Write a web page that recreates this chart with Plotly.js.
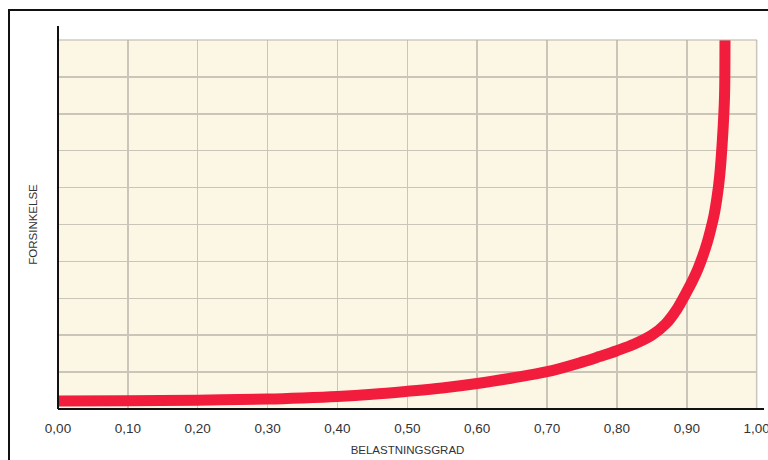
<!DOCTYPE html>
<html>
<head>
<meta charset="utf-8">
<script src="https://cdn.plot.ly/plotly-3.0.1.min.js"></script>
<style>html,body{margin:0;padding:0;background:#fff;}#chart{width:768px;height:460px;}</style>
</head>
<body>
<div id="chart"></div>
<script>
// Belastningsgrad (utilization) values
const belastning = [0.00, 0.10, 0.20, 0.30, 0.35, 0.40, 0.45, 0.50, 0.55, 0.60, 0.65, 0.70, 0.75, 0.775, 0.80, 0.825, 0.85, 0.87, 0.885, 0.90, 0.908, 0.916, 0.923, 0.929, 0.934, 0.939, 0.943, 0.947, 0.951, 0.954, 0.9547, 0.9550];
// Forsinkelse (delay) in gridline units (0..10)
const forsinkelse = [0.22, 0.225, 0.24, 0.27, 0.30, 0.34, 0.40, 0.48, 0.57, 0.69, 0.84, 1.01, 1.27, 1.42, 1.58, 1.76, 2.00, 2.31, 2.68, 3.18, 3.47, 3.80, 4.15, 4.50, 4.85, 5.25, 5.70, 6.30, 7.30, 8.46, 10.0, 11.0];
const xTicks = [0, 0.1, 0.2, 0.3, 0.4, 0.5, 0.6, 0.7, 0.8, 0.9, 1.0];
const xTickLabels = ["0,00", "0,10", "0,20", "0,30", "0,40", "0,50", "0,60", "0,70", "0,80", "0,90", "1,00"];
const yGrid = [0, 1, 2, 3, 4, 5, 6, 7, 8, 9, 10];

const trace = {
  x: belastning, y: forsinkelse, type: 'scatter', mode: 'lines',
  line: {color: '#f21c3c', width: 11, shape: 'spline', smoothing: 1},
  hoverinfo: 'skip'
};

const layout = {
  width: 768, height: 460,
  margin: {l: 58, r: 11, t: 40, b: 51},
  paper_bgcolor: '#ffffff', plot_bgcolor: '#fcf6e4',
  showlegend: false,
  font: {family: 'Liberation Sans, Arial, sans-serif', color: '#333333'},
  xaxis: {
    range: [0, 1.0005], tickvals: xTicks, ticktext: xTickLabels,
    showgrid: true, gridcolor: '#c9c5b9', gridwidth: 1.5,
    zeroline: false, showline: false,
    ticks: 'outside', ticklen: 7, tickcolor: 'rgba(0,0,0,0)',
    ticklabeloverflow: 'allow',
    tickfont: {size: 13.5, color: '#333333'},
    title: {text: 'BELASTNINGSGRAD', font: {size: 11.5, color: '#333333'}, standoff: 10}
  },
  yaxis: {
    range: [0, 10], tickvals: yGrid, showticklabels: false,
    showgrid: true, gridcolor: '#c9c5b9', gridwidth: 1.5,
    zeroline: false, showline: false, ticks: '',
    title: {text: 'FORSINKELSE', font: {size: 11.5, color: '#333333'}, standoff: 16}
  },
  shapes: [
    {type: 'line', xref: 'paper', yref: 'paper', x0: 0, x1: 1.0, y0: 1, y1: 1, line: {color: '#b8b4a8', width: 1.2}, layer: 'above'},
    {type: 'line', xref: 'paper', yref: 'paper', x0: 0.9995, x1: 0.9995, y0: 0, y1: 1, line: {color: '#c9c5b9', width: 1.5}, layer: 'below'},
    {type: 'line', xref: 'paper', yref: 'paper', x0: 0, x1: 1.01, y0: 0, y1: 0, line: {color: '#111111', width: 2}, layer: 'above'},
    {type: 'line', xref: 'paper', yref: 'paper', x0: 0, x1: 0, y0: 0, y1: 1.038, line: {color: '#111111', width: 2}, layer: 'above'},
    {type: 'rect', xref: 'paper', yref: 'paper', x0: -0.0701, x1: 1.03, y0: -0.2, y1: 1.0813, line: {color: '#111111', width: 2}, fillcolor: 'rgba(0,0,0,0)', layer: 'above'}
  ]
};

Plotly.newPlot('chart', [trace], layout, {displayModeBar: false, staticPlot: true});
</script>
</body>
</html>
